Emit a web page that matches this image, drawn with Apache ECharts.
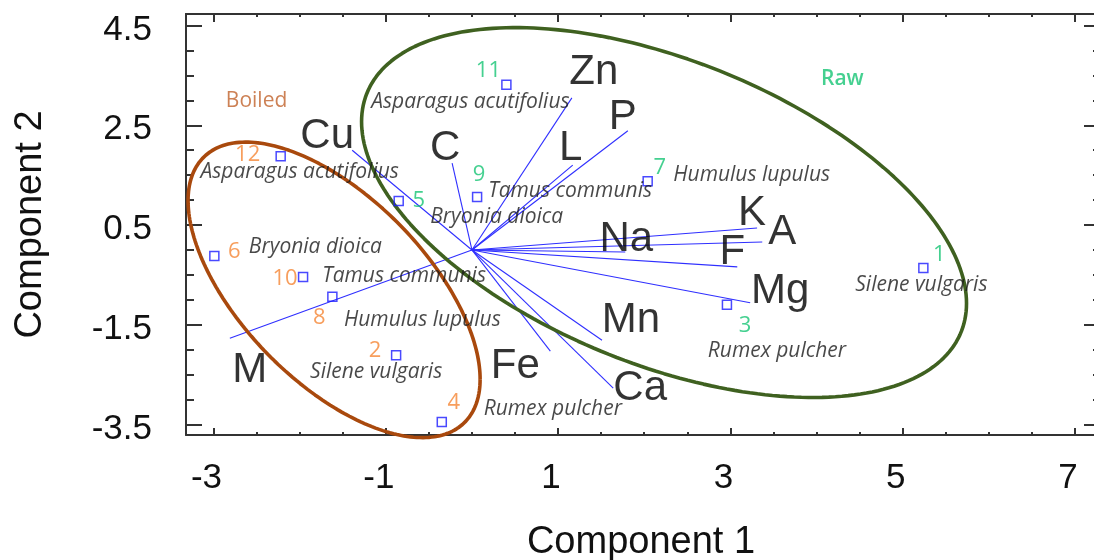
<!DOCTYPE html>
<html><head><meta charset="utf-8">
<script src="https://cdn.jsdelivr.net/npm/echarts@6/dist/echarts.min.js"></script>
<style>html,body{margin:0;padding:0;background:#fff}#c{width:1094px;height:560px}</style>
</head><body><div id="c"></div>
<script>
// ---------- data ----------
const sampleIds   = ['1','2','3','4','5','6','7','8','9','10','11','12'];
const sampleNames = ['Silene vulgaris','Silene vulgaris','Rumex pulcher','Rumex pulcher',
  'Bryonia dioica','Bryonia dioica','Humulus lupulus','Humulus lupulus',
  'Tamus communis','Tamus communis','Asparagus acutifolius','Asparagus acutifolius'];
const sampleGroup = ['Raw','Boiled','Raw','Boiled','Raw','Boiled','Raw','Boiled','Raw','Boiled','Raw','Boiled'];
const scoreX = [5.24, -0.88, 2.96, -0.35, -0.85, -2.99, 2.04, -1.62, 0.06, -1.96, 0.40, -2.22];
const scoreY = [-0.36, -2.11, -1.10, -3.45, 0.98, -0.12, 1.38, -0.94, 1.06, -0.54, 3.31, 1.88];

const varNames = ['Cu','C','Zn','L','P','Na','K','A','F','Mg','Mn','Fe','Ca','M'];
const loadX = [-1.39, -0.23, 1.16, 1.17, 1.81, 1.78, 3.31, 3.37, 3.08, 3.23, 1.51, 0.91, 1.64, -2.81];
const loadY = [ 2.00,  1.74, 3.05, 1.70, 2.39, -0.04, 0.44, 0.16, -0.34, -1.06, -1.81, -2.03, -2.77, -1.77];

const groupNames = ['Boiled','Raw'];
// ellipse: centre and two conjugate semi-diameters (data units)
const ellipseCX = [-1.60, 2.23];
const ellipseCY = [-0.80, 0.75];
const ellipseUX = [1.695, 3.511];
const ellipseUY = [-1.79, -1.82];
const ellipseVX = [0, 0];
const ellipseVY = [2.36, 3.23];
const groupLabelX = [-2.50, 4.30];
const groupLabelY = [2.99, 3.43];

const xMajor = [-3, -1, 1, 3, 5, 7];
const xMinor = [-3,-2.5,-2,-1.5,-1,-0.5,0,0.5,1,1.5,2,2.5,3,3.5,4,4.5,5,5.5,6,6.5,7];
const yMajor = [-3.5, -1.5, 0.5, 2.5, 4.5];
const yMinor = [-3.5,-3,-2.5,-2,-1.5,-1,-0.5,0,0.5,1,1.5,2,2.5,3,3.5,4,4.5];

// ---------- layout / style ----------
const numberOffsets = [[16,-13],[-21,-4],[18,21],[12,-19],[20,0],[20,-4],[12,-13],[-13,21],[2,-22],[-18,2],[-18,-14],[-33,-1]];
const nameOffsets = [[-2,17],[-20,17],[50,46],[111,-13],[98,16],[101,-9],[104,-6],[90,23],[93,-6],[101,-1],[-36,17],[19,16]];
const varOffsets = [[-25,-14],[-7,-15],[22,-25],[-2,-17],[-5,-13],[1,-13],[-5,-15],[20,-10],[-5,-14],[30,-11],[29,-20],[-35,15],[27,0],[20,32]];
const groupColor = {Raw:'#17c474', Boiled:'#f58634'};
const ellipseColor = ['#a9490d', '#3f6120'];
const groupTextColor = ['#c0622a', '#17c474'];

const XMIN = -3.319, XMAX = 7.244, YMIN = -3.71, YMAX = 4.731;
const AX = '#333';
const FONT = 'Liberation Sans, Arial, sans-serif';

function xAxisDef(pos, ticks, len, withLabel) {
  return {
    type:'value', position:pos, min:XMIN, max:XMAX,
    axisLine:{show:withLabel || pos==='top', onZero:false, lineStyle:{color:AX, width:2}},
    axisTick:{show:true, inside:true, length:len, customValues:ticks, lineStyle:{color:AX, width:2}},
    axisLabel:withLabel ? {show:true, customValues:xMajor, margin:26,
      formatter:v=>'{a|' + v + '}',
      rich:{a:{fontSize:35, color:'#111', fontFamily:FONT, padding:[0,14,0,0]}}} : {show:false},
    splitLine:{show:false},
    name: withLabel ? 'Component 1' : '',
    nameLocation:'middle', nameGap:89,
    nameTextStyle:{fontSize:38, color:'#111', fontFamily:FONT}
  };
}
function yAxisDef(pos, ticks, len, withLabel) {
  return {
    type:'value', position:pos, min:YMIN, max:YMAX,
    axisLine:{show:withLabel, onZero:false, lineStyle:{color:AX, width:2}},
    axisTick:{show:true, inside:true, length:len, customValues:ticks, lineStyle:{color:AX, width:2}},
    axisLabel:withLabel ? {show:true, customValues:yMajor, fontSize:35, color:'#111', fontFamily:FONT, margin:34,
      verticalAlign:'top', lineHeight:9, formatter:v=>v.toFixed(1)} : {show:false},
    splitLine:{show:false},
    name: withLabel ? 'Component 2' : '',
    nameLocation:'middle', nameGap:136,
    nameTextStyle:{fontSize:38, color:'#111', fontFamily:FONT}
  };
}

function ellipsePoints(k) {
  const pts = [];
  const n = 240;
  for (let i = 0; i <= n; i++) {
    const t = 2 * Math.PI * i / n;
    pts.push([ellipseCX[k] + ellipseUX[k]*Math.cos(t) + ellipseVX[k]*Math.sin(t),
              ellipseCY[k] + ellipseUY[k]*Math.cos(t) + ellipseVY[k]*Math.sin(t)]);
  }
  return pts;
}

const series = [];
series.push({
  type:'lines', coordinateSystem:'cartesian2d', silent:true, z:2,
  lineStyle:{color:'#2f2fff', width:1.1, opacity:1},
  data: loadX.map((x,i)=>({coords:[[0,0],[x, loadY[i]]]}))
});
groupNames.forEach((g,k)=>{
  series.push({type:'line', data:ellipsePoints(k), showSymbol:false, symbol:'none', smooth:false, clip:false,
    lineStyle:{color:ellipseColor[k], width:3.6}, silent:true, z:3});
});
series.push({
  type:'scatter', symbol:'rect', symbolSize:9, z:5, silent:true,
  itemStyle:{color:'rgba(255,255,255,0)', borderColor:'#1c1cff', borderWidth:1.5},
  data: scoreX.map((x,i)=>[x, scoreY[i]])
});
series.push({
  type:'scatter', symbolSize:1, z:6, silent:true, itemStyle:{color:'rgba(0,0,0,0)'},
  label:{show:true, position:'inside', fontFamily:'Open Sans', fontSize:22, align:'center', verticalAlign:'middle'},
  data: scoreX.map((x,i)=>({value:[x, scoreY[i]], label:{formatter:sampleIds[i], offset:numberOffsets[i], color:groupColor[sampleGroup[i]]}}))
});
series.push({
  type:'scatter', symbolSize:1, z:6, silent:true, itemStyle:{color:'rgba(0,0,0,0)'},
  label:{show:true, position:'inside', fontFamily:'Open Sans', fontStyle:'italic', fontSize:21, color:'#1a1a1a', align:'center', verticalAlign:'middle'},
  data: scoreX.map((x,i)=>({value:[x, scoreY[i]], label:{formatter:sampleNames[i], offset:nameOffsets[i]}}))
});
series.push({
  type:'scatter', symbolSize:1, z:6, silent:true, itemStyle:{color:'rgba(0,0,0,0)'},
  label:{show:true, position:'inside', fontFamily:FONT, fontSize:42, color:'#000', align:'center', verticalAlign:'middle'},
  data: loadX.map((x,i)=>({value:[x, loadY[i]], label:{formatter:varNames[i], offset:varOffsets[i]}}))
});
series.push({
  type:'scatter', symbolSize:1, z:6, silent:true, itemStyle:{color:'rgba(0,0,0,0)'},
  label:{show:true, position:'inside', fontFamily:'Open Sans', fontSize:21, align:'center', verticalAlign:'middle'},
  data: groupNames.map((g,k)=>({value:[groupLabelX[k], groupLabelY[k]], label:{formatter:g, color:groupTextColor[k], fontWeight: g==='Raw'?600:400}}))
});

const chart = echarts.init(document.getElementById('c'), null, {renderer:'canvas'});
chart.setOption({
  animation:false,
  backgroundColor:'#fff',
  grid:{left:186, top:14, width:910, height:421, containLabel:false, outerBoundsMode:'none'},
  xAxis:[xAxisDef('bottom', xMajor, 7, true), xAxisDef('bottom', xMinor, 3, false),
         xAxisDef('top', xMajor, 8, false), xAxisDef('top', xMinor, 3, false)],
  yAxis:[yAxisDef('left', yMajor, 16, true), yAxisDef('left', yMinor, 8, false),
         yAxisDef('right', yMajor, 12, false), yAxisDef('right', yMinor, 3, false)],
  series: series
});
</script></body></html>
